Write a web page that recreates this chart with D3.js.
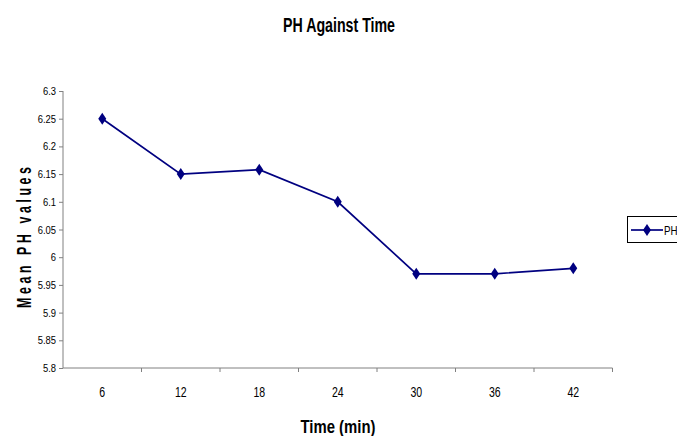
<!DOCTYPE html>
<html><head><meta charset="utf-8">
<script src="https://cdn.jsdelivr.net/npm/d3@7"></script>
<style>
html,body{margin:0;padding:0;background:#fff;}
svg text{font-family:"Liberation Sans",Arial,sans-serif;}
</style></head>
<body><svg id="c" width="677" height="436"></svg>
<script>
const categories = ["6","12","18","24","30","36","42"];
const phValues = [6.25, 6.15, 6.158, 6.10, 5.97, 5.97, 5.98];
const yTicks = [5.8,5.85,5.9,5.95,6,6.05,6.1,6.15,6.2,6.25,6.3];
const yTickLabels = ["5.8","5.85","5.9","5.95","6","6.05","6.1","6.15","6.2","6.25","6.3"];
const seriesName = "PH";
const titleText = "PH Against Time";
const xTitle = "Time (min)";
const yTitle = "Mean PH values";

const svg = d3.select("#c");
const m = {left:63, right:612.5, top:91, bottom:368};
const x = d3.scaleBand().domain(categories).range([m.left, m.right]);
const y = d3.scaleLinear().domain([5.8, 6.3]).range([m.bottom, m.top]);
const navy = "#000080";
const axisCol = "#808080";

function label(parent, tx, ty, txt, size, sx, anchor, bold){
  return parent.append("text")
    .attr("transform",`translate(${tx},${ty}) scale(${sx},1)`)
    .attr("text-anchor",anchor).attr("font-size",size)
    .attr("font-weight",bold?"bold":"normal").attr("fill","#000").text(txt);
}

// Y axis
const ya = svg.append("g").attr("transform",`translate(${m.left},0)`)
  .call(d3.axisLeft(y).tickValues(yTicks).tickSize(4).tickFormat(""));
ya.select(".domain").attr("stroke",axisCol).attr("d",`M0,${m.bottom}V${m.top}`);
ya.selectAll(".tick line").attr("stroke",axisCol);
yTicks.forEach((v,i)=>label(svg, 56, y(v)+4, yTickLabels[i], 11.5, 0.82, "end"));

// X axis
const xa = svg.append("g").attr("transform",`translate(0,${m.bottom})`)
  .call(d3.axisBottom(x).tickSize(0).tickFormat(""));
xa.select(".domain").attr("stroke",axisCol).attr("d",`M${m.left},0H${m.right}`);
const bounds = categories.map(c=>x(c)+x.bandwidth());
xa.selectAll(".btick").data(bounds).enter().append("line")
  .attr("x1",d=>d).attr("x2",d=>d).attr("y1",0).attr("y2",4).attr("stroke",axisCol);
categories.forEach(c=>label(svg, x(c)+x.bandwidth()/2, 397, c, 15.5, 0.68, "middle"));

// Line
const cx = i => x(categories[i])+x.bandwidth()/2;
const line = d3.line().x((d,i)=>cx(i)).y(d=>y(d));
svg.append("path").datum(phValues).attr("d",line)
  .attr("fill","none").attr("stroke",navy).attr("stroke-width",1.7);

const diamond = "M0,-6L4,0L0,6L-4,0Z";
svg.selectAll(".pt").data(phValues).enter().append("path")
  .attr("d",diamond)
  .attr("transform",(d,i)=>`translate(${cx(i)},${y(d)})`)
  .attr("fill",navy);

// Titles
svg.append("text").attr("x",339).attr("y",32).attr("text-anchor","middle")
  .attr("font-size",20).attr("font-weight","bold")
  .attr("textLength",112).attr("lengthAdjust","spacingAndGlyphs").text(titleText);
svg.append("text").attr("x",338).attr("y",433).attr("text-anchor","middle")
  .attr("font-size",19).attr("font-weight","bold")
  .attr("textLength",75).attr("lengthAdjust","spacingAndGlyphs").text(xTitle);
const ysx = 0.62;
svg.append("text").attr("transform",`translate(31,237.5) rotate(-90) scale(${ysx},1)`).attr("text-anchor","middle")
  .attr("font-size",20).attr("font-weight","bold")
  .attr("textLength",141/ysx).attr("lengthAdjust","spacing").text(yTitle);

// Legend
const lg = svg.append("g");
lg.append("rect").attr("x",627.5).attr("y",216.5).attr("width",60).attr("height",26)
  .attr("fill","#fff").attr("stroke","#000");
lg.append("line").attr("x1",631).attr("x2",663).attr("y1",230).attr("y2",230)
  .attr("stroke",navy).attr("stroke-width",1.7);
lg.append("path").attr("d",diamond).attr("transform","translate(647,230)").attr("fill",navy);
label(lg, 664, 234.5, seriesName, 13, 0.75, "start");
</script></body></html>
